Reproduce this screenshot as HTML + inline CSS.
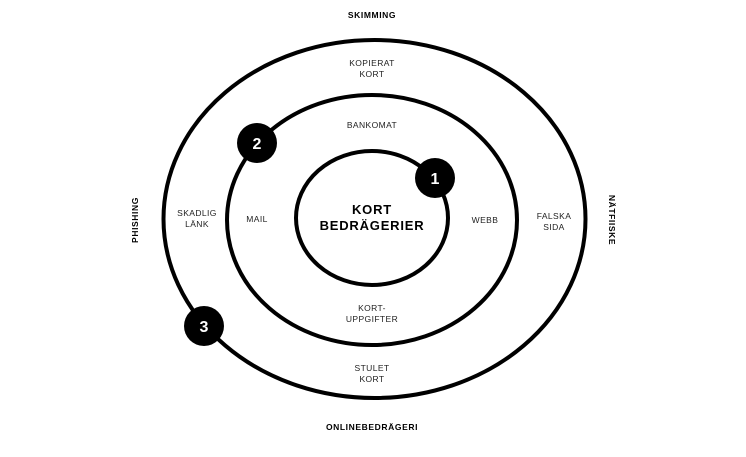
<!DOCTYPE html>
<html><head><meta charset="utf-8"><style>
body{margin:0;background:#fff;width:746px;height:452px;overflow:hidden}
svg text{font-family:"Liberation Sans",sans-serif;fill:#222}
.s{font-size:8.5px;letter-spacing:0.4px}
.b{font-size:8.5px;font-weight:bold;letter-spacing:0.6px;fill:#000}
.n{font-size:16px;font-weight:bold;fill:#fff !important}
</style></head><body>
<svg width="746" height="452" viewBox="0 0 746 452">
<g fill="none" stroke="#000" stroke-width="4">
<ellipse cx="374.5" cy="219" rx="211" ry="179"/>
<ellipse cx="372" cy="220" rx="145" ry="125"/>
<ellipse cx="372" cy="218" rx="76" ry="67"/>
</g>
<g fill="#000">
<circle cx="435" cy="178" r="20"/>
<circle cx="257" cy="143" r="20"/>
<circle cx="204" cy="326" r="20"/>
</g>
<g text-anchor="middle">
<text class="n" x="435" y="184">1</text>
<text class="n" x="257" y="149">2</text>
<text class="n" x="204" y="332">3</text>
<text class="b" x="372" y="18">SKIMMING</text>
<text class="b" x="372" y="430">ONLINEBEDRÄGERI</text>
<text class="b" transform="translate(138,220) rotate(-90)">PHISHING</text>
<text class="b" transform="translate(609,220) rotate(90)">NÄTFIISKE</text>
<text class="s" x="372" y="66">KOPIERAT</text>
<text class="s" x="372" y="77">KORT</text>
<text class="s" x="372" y="128">BANKOMAT</text>
<text class="s" x="197" y="216">SKADLIG</text>
<text class="s" x="197" y="227">LÄNK</text>
<text class="s" x="257" y="222">MAIL</text>
<text class="s" x="485" y="223">WEBB</text>
<text class="s" x="554" y="219">FALSKA</text>
<text class="s" x="554" y="230">SIDA</text>
<text class="s" x="372" y="311">KORT-</text>
<text class="s" x="372" y="322">UPPGIFTER</text>
<text class="s" x="372" y="371">STULET</text>
<text class="s" x="372" y="382">KORT</text>
<text x="372" y="214" style="font-size:13px;font-weight:bold;letter-spacing:0.8px;fill:#000">KORT</text>
<text x="372" y="230" style="font-size:13px;font-weight:bold;letter-spacing:0.8px;fill:#000">BEDRÄGERIER</text>
</g>
</svg>
</body></html>
